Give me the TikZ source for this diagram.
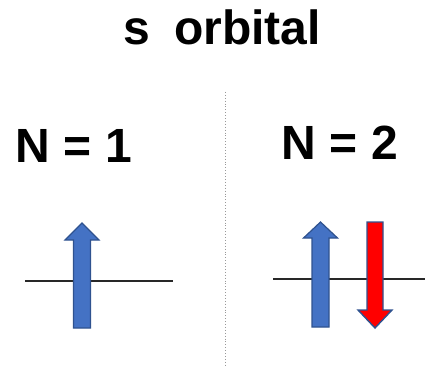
\documentclass[tikz,border=0pt]{standalone}
\usepackage{fontspec}
\setmainfont{Liberation Sans}
\definecolor{spinblue}{RGB}{68,114,196}
\definecolor{spinedge}{RGB}{47,82,143}
\definecolor{levelgray}{RGB}{40,40,40}

\begin{document}
\begin{tikzpicture}[x=1pt, y=-1pt,
		level/.style={draw=levelgray, line width=1.6pt},
		upspin/.style={fill=spinblue, draw=spinedge, line width=1.2pt},
		downspin/.style={fill=red, draw=spinedge, line width=1.4pt},
		label/.style={font=\bfseries\fontsize{48}{52}\selectfont, anchor=base, inner sep=0pt}]
		\useasboundingbox (0, 0) rectangle (425, 366);
		% title and the two cases
		\node[label, font=\bfseries\fontsize{48}{52}\selectfont] (title) at (222, 45) {s\hspace{0.5em}orbital};
		\node[label] (one) at (74, 163) {N = 1};
		\node[label] (two) at (340, 160) {N = 2};
		% separator
		\draw[gray!80, dotted, line width=0.9pt] (225, 92) -- (225, 366);
		% energy levels
		\draw[level] (25, 281) -- (173, 281);
		\draw[level] (273, 279) -- (425, 279);
		% spin up arrows: (centre, tip, head base, bottom)
		\foreach \cx/\tip/\hb/\bot in {82/223/240/328, 320.5/222/238/327}
			\draw[upspin] (\cx-8.5, \bot) -- (\cx-8.5, \hb) -- (\cx-17, \hb) -- (\cx, \tip)
				-- (\cx+17, \hb) -- (\cx+8.5, \hb) -- (\cx+8.5, \bot) -- cycle;
		% spin down arrow
		\draw[downspin] (367, 222) -- (383, 222) -- (383, 310) -- (392, 310) -- (375, 328)
			-- (358, 310) -- (367, 310) -- cycle;
	\end{tikzpicture}
\end{document}
